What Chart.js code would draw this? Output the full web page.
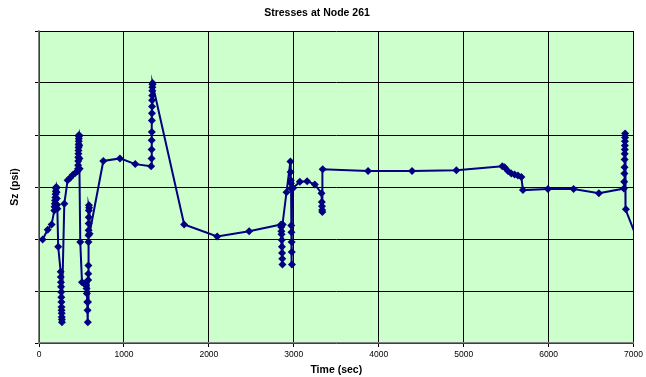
<!DOCTYPE html>
<html>
<head>
<meta charset="utf-8">
<title>Stresses at Node 261</title>
<script src="https://cdn.jsdelivr.net/npm/chart.js@4.4.1/dist/chart.umd.min.js"></script>
<style>
  html, body { margin: 0; padding: 0; background: #ffffff; }
  #myChart { display: block; }
</style>
</head>
<body>
<canvas id="myChart" width="646" height="377"></canvas>
<script>
// time (sec) of each sample
const timeSec = [
  43, 102, 149,
  180, 183, 186, 189, 192, 195, 198, 201, 204, 207, 210, 213, 216,
  226,
  255, 257, 258, 260, 261, 263, 264, 265, 266, 267, 268, 269, 270,
  298, 337, 368, 396, 427, 455,
  460, 461, 462, 463, 464, 465, 466, 467, 468, 469, 470, 471, 474, 476, 478,
  486, 506, 533, 553,
  560, 564, 568, 572, 575,
  577, 579, 580, 581, 582, 583, 584, 585, 586, 587, 588, 590,
  595, 757, 953, 1133, 1320,
  1325, 1326, 1327, 1328, 1329, 1330, 1331, 1332, 1333, 1334, 1335, 1336, 1337,
  1709, 2098, 2474, 2850,
  2852, 2854, 2856, 2858, 2860, 2862, 2864, 2866, 2870,
  2914,
  2960, 2962, 2964, 2966, 2968, 2970, 2972, 2974, 2976, 2978, 2980,
  2992, 3071, 3157, 3247, 3326, 3330, 3332, 3334, 3336, 3340,
  3874, 4392, 4914, 5455, 5482, 5521, 5561, 5600, 5639, 5679, 5698,
  5992, 6294, 6592, 6886,
  6890, 6892, 6894, 6895, 6896, 6897, 6898, 6899, 6900, 6901,
  6910, 7100
];

// Sz readings (scale units, one per grid division; the original axis shows no numbers)
const szValues = [
  1.99, 2.18, 2.28,
  2.55, 2.62, 2.68, 2.74, 2.80, 2.86, 2.92, 2.97, 3.00, 2.90, 2.78, 2.66, 2.58,
  1.85,
  1.37, 1.27, 1.17, 1.08, 0.98, 0.88, 0.79, 0.69, 0.63, 0.57, 0.50, 0.45, 0.40,
  2.68, 3.13, 3.18, 3.23, 3.27, 3.31,
  3.35, 3.42, 3.50, 3.57, 3.64, 3.70, 3.76, 3.82, 3.88, 3.93, 3.97, 4.00, 3.80, 3.55, 3.35,
  1.94, 1.17, 1.14, 1.11,
  1.05, 0.95, 0.79, 0.63, 0.40,
  0.79, 1.21, 1.33, 1.49, 1.94, 2.07, 2.17, 2.30, 2.42, 2.55, 2.65, 2.60,
  2.10, 3.50, 3.55, 3.44, 3.40,
  3.55, 3.72, 3.90, 4.06, 4.28, 4.42, 4.55, 4.67, 4.76, 4.85, 4.92, 4.97, 5.00,
  2.28, 2.05, 2.15, 2.28,
  2.23, 2.15, 2.09, 1.98, 1.85, 1.73, 1.62, 1.51, 2.28,
  2.90,
  3.49, 3.29, 3.13, 3.07, 2.97, 2.26, 2.13, 1.94, 1.75, 1.51, 2.97,
  2.98, 3.10, 3.11, 3.05, 2.88, 2.71, 2.63, 2.56, 2.52, 3.34,
  3.31, 3.31, 3.32, 3.40, 3.38, 3.31, 3.26, 3.24, 3.22, 3.19, 2.94,
  2.96, 2.96, 2.88, 2.97,
  3.10, 3.26, 3.38, 3.53, 3.64, 3.72, 3.80, 3.88, 3.95, 4.03,
  2.57, 1.76
];

const xTicks = [0, 1000, 2000, 3000, 4000, 5000, 6000, 7000];

const points = timeSec.map(function (t, i) {
  return { x: t, y: szValues[i] };
});

// paints the light green plot area
const plotBackground = {
  id: 'plotBackground',
  beforeDraw: function (chart) {
    const a = chart.chartArea;
    const c = chart.ctx;
    c.save();
    c.fillStyle = '#CCFFCC';
    c.fillRect(a.left, a.top, a.right - a.left, a.bottom - a.top);
    c.restore();
  }
};

const ctx = document.getElementById('myChart').getContext('2d');

const chart = new Chart(ctx, {
  type: 'scatter',
  data: {
    datasets: [{
      label: 'Sz',
      data: points,
      showLine: true,
      borderColor: '#000080',
      backgroundColor: '#000080',
      borderWidth: 2,
      pointStyle: 'rectRot',
      pointRadius: 4,
      pointBorderWidth: 0,
      pointBackgroundColor: '#000080',
      tension: 0
    }]
  },
  options: {
    responsive: false,
    animation: false,
    devicePixelRatio: 1,
    layout: { padding: { left: 0, right: 12, top: 0, bottom: 0 } },
    plugins: {
      legend: { display: false },
      tooltip: { enabled: false },
      title: {
        display: true,
        text: 'Stresses at Node 261',
        color: '#000000',
        font: { family: 'Liberation Sans, Arial, sans-serif', size: 10.5, weight: 'bold', lineHeight: 1.2 },
        padding: { top: 7, bottom: 11.4 }
      }
    },
    scales: {
      x: {
        type: 'linear',
        min: 0,
        max: 7000,
        afterBuildTicks: function (scale) {
          scale.ticks = xTicks.map(function (v) { return { value: v }; });
        },
        afterFit: function (scale) { scale.height = 34; },
        ticks: {
          color: '#000000',
          font: { family: 'Liberation Sans, Arial, sans-serif', size: 8.5 },
          padding: 3,
          maxRotation: 0,
          autoSkip: false,
          callback: function (v) { return String(v); }
        },
        grid: { color: '#000000', lineWidth: 1, tickLength: 4 },
        border: { color: '#808080', width: 1.5 },
        title: {
          display: true,
          text: 'Time (sec)',
          color: '#000000',
          font: { family: 'Liberation Sans, Arial, sans-serif', size: 10.5, weight: 'bold', lineHeight: 1.2 },
          padding: { top: 0, bottom: 1 }
        }
      },
      y: {
        type: 'linear',
        min: 0,
        max: 6,
        afterFit: function (scale) { scale.width = 39; },
        ticks: { display: false, stepSize: 1 },
        grid: { color: '#000000', lineWidth: 1, tickLength: 4 },
        border: { color: '#808080', width: 1.5 },
        title: {
          display: true,
          text: 'Sz (psi)',
          color: '#000000',
          font: { family: 'Liberation Sans, Arial, sans-serif', size: 10.5, weight: 'bold', lineHeight: 1.2 },
          padding: { top: 9, bottom: 0 }
        }
      }
    }
  },
  plugins: [plotBackground]
});
</script>
</body>
</html>
